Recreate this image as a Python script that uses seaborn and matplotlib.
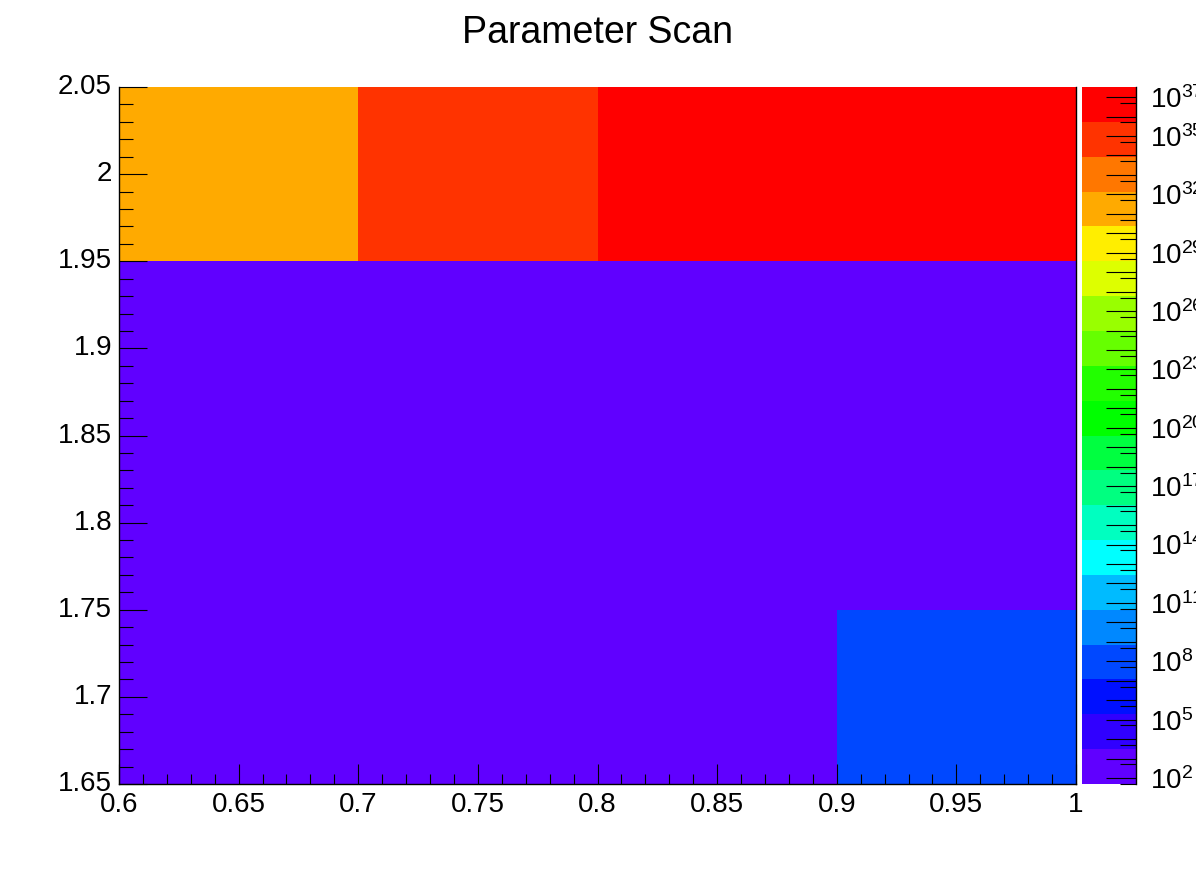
import numpy as np
import pandas as pd
import matplotlib
matplotlib.use('Agg')
import matplotlib.pyplot as plt
from matplotlib.colors import ListedColormap, LogNorm
from matplotlib.ticker import FixedLocator, FixedFormatter
import seaborn as sns

# bin centres of the scan (x: columns, y: rows from bottom to top)
x_centers = [0.65, 0.75, 0.85, 0.95]
y_centers = [1.70, 1.80, 1.90, 2.00]
bin_width = 0.1

# scanned values, one row per y bin
row_170 = [2.0e2, 4.0e2, 9.0e2, 1.0e8]
row_180 = [1.2e2, 2.5e2, 6.0e2, 1.5e3]
row_190 = [4.9e1, 1.5e2, 3.0e2, 8.0e2]
row_200 = [1.0e31, 1.0e35, 8.0e36, 3.3e37]

# ROOT-like rainbow palette, 20 contours, bottom to top
palette = ['#6000FF', '#3000FF', '#0010FF', '#0048FF', '#0088FF',
           '#00BBFF', '#00FFFF', '#00FFC0', '#00FF80', '#00FF40',
           '#00FF00', '#22FF00', '#66FF00', '#99FF00', '#DDFF00',
           '#FFEE00', '#FFAA00', '#FF7700', '#FF3300', '#FF0000']

x_ticks = [0.6, 0.65, 0.7, 0.75, 0.8, 0.85, 0.9, 0.95, 1.0]
y_ticks = [1.65, 1.7, 1.75, 1.8, 1.85, 1.9, 1.95, 2.0, 2.05]
z_decades = list(range(2, 38))
z_labelled = [2, 5, 8, 11, 14, 17, 20, 23, 26, 29, 32, 35, 37]

plt.rcParams['font.family'] = ['Liberation Sans', 'DejaVu Sans']

df = pd.DataFrame([row_170, row_180, row_190, row_200],
                  index=y_centers, columns=x_centers)
cmap = ListedColormap(palette)
norm = LogNorm(vmin=df.values.min(), vmax=df.values.max())

fig = plt.figure(figsize=(11.96, 8.72), dpi=100)
ax = fig.add_axes([0.0995, 0.1009, 0.8002, 0.7993])
cax = fig.add_axes([0.9047, 0.1009, 0.0452, 0.7993])

sns.heatmap(df, ax=ax, cbar_ax=cax, cmap=cmap, norm=norm, cbar=True)
ax.invert_yaxis()
ax.set_xlabel('')
ax.set_ylabel('')

# convert real axis values into heatmap cell units
x0 = x_centers[0] - bin_width / 2
y0 = y_centers[0] - bin_width / 2
to_x = lambda v: (np.asarray(v) - x0) / bin_width
to_y = lambda v: (np.asarray(v) - y0) / bin_width

ax.xaxis.set_major_locator(FixedLocator(to_x(x_ticks)))
ax.xaxis.set_major_formatter(FixedFormatter(['%g' % v for v in x_ticks]))
ax.xaxis.set_minor_locator(FixedLocator(to_x(np.arange(0.6, 1.0001, 0.01))))
ax.yaxis.set_major_locator(FixedLocator(to_y(y_ticks)))
ax.yaxis.set_major_formatter(FixedFormatter(['%g' % v for v in y_ticks]))
ax.yaxis.set_minor_locator(FixedLocator(to_y(np.arange(1.65, 2.0501, 0.01))))

ax.tick_params(axis='x', which='major', direction='in', length=14.4, width=0.8,
               labelsize=20, pad=6, rotation=0)
ax.tick_params(axis='x', which='minor', direction='in', length=7.2, width=0.8)
ax.tick_params(axis='y', which='major', direction='in', length=20, width=0.8,
               labelsize=20, pad=5, rotation=0)
ax.tick_params(axis='y', which='minor', direction='in', length=10, width=0.8)

for side in ['left', 'bottom', 'right']:
    ax.spines[side].set_visible(True)
    ax.spines[side].set_linewidth(1.0)
    ax.spines[side].set_color('black')
ax.spines['top'].set_visible(False)

# colour bar axis
cb = ax.collections[0].colorbar
cb.outline.set_visible(False)
cax.plot([1, 1], [0, 1], transform=cax.transAxes, color='black', lw=1.0, clip_on=False)
cax.yaxis.set_ticks_position('right')
cax.yaxis.set_major_locator(FixedLocator([10.0 ** d for d in z_decades]))
cax.yaxis.set_major_formatter(FixedFormatter(
    [r'$\mathdefault{10^{%d}}$' % d if d in z_labelled else '' for d in z_decades]))
cax.yaxis.set_minor_locator(FixedLocator([5 * 10.0 ** d for d in range(1, 38)]))
cax.tick_params(axis='y', which='major', direction='in', length=21.6, width=0.8,
                labelsize=20, pad=10)
cax.tick_params(axis='y', which='minor', direction='in', length=11.5, width=0.8)

fig.text(0.5, 1 - 33 / 872, 'Parameter Scan', ha='center', va='center', fontsize=27)

fig.savefig('out.png', dpi=100)
